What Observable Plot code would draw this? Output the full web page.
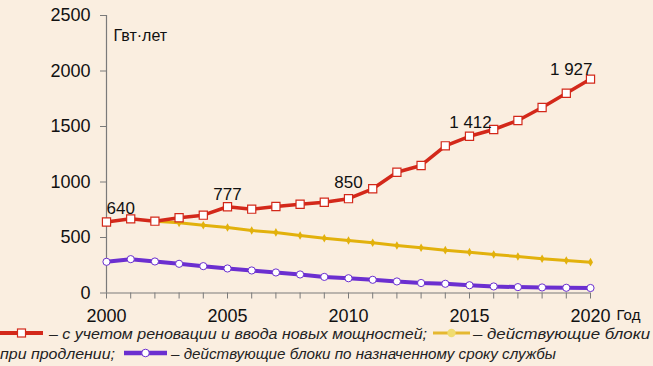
<!DOCTYPE html>
<html>
<head>
<meta charset="utf-8">
<script src="https://cdn.jsdelivr.net/npm/d3@7"></script>
<script src="https://cdn.jsdelivr.net/npm/@observablehq/plot@0.6"></script>
<style>
  html, body { margin: 0; padding: 0; background: #faeee0; }
  #chart { position: relative; width: 653px; height: 366px; overflow: hidden; background: #faeee0; }
  #chart svg { display: block; }
  #chart svg.legend { position: absolute; left: 0; top: 318px; }
</style>
</head>
<body>
<div id="chart"></div>
<script>
const years = [2000, 2001, 2002, 2003, 2004, 2005, 2006, 2007, 2008, 2009, 2010,
               2011, 2012, 2013, 2014, 2015, 2016, 2017, 2018, 2019, 2020];
const renovation = [640, 668, 647, 678, 701, 777, 755, 779, 800, 818, 850,
                    939, 1088, 1149, 1326, 1412, 1473, 1554, 1671, 1800, 1927];
const extendedYears = [2002, 2003, 2004, 2005, 2006, 2007, 2008, 2009, 2010, 2011,
                       2012, 2013, 2014, 2015, 2016, 2017, 2018, 2019, 2020];
const extended = [647, 632, 611, 590, 563, 546, 518, 494, 473, 452,
                  428, 407, 386, 368, 347, 329, 308, 293, 278];
const designLife = [281, 305, 284, 263, 242, 221, 203, 185, 167, 145, 133,
                    119, 104, 90, 83, 70, 59, 53, 50, 47, 45];
const yTicks = [0, 500, 1000, 1500, 2000, 2500];
const xLabelYears = [2000, 2005, 2010, 2015, 2020];
const labelYears = [2000, 2005, 2010, 2015, 2020];
const labelTexts = ["640", "777", "850", "1 412", "1 927"];
const unitLabel = "Гвт·лет";
const xUnitLabel = "Год";
const legendTexts = [
  "– с учетом реновации и ввода новых мощностей;",
  "– действующие блоки",
  "при продлении;",
  "– действующие блоки по назначенному сроку службы"
];

const RED = "#d3281a", YELLOW = "#e2b10c", PURPLE = "#6b2fd0";
const FONT = "'Liberation Sans', Arial, sans-serif";

const redData = years.map((x, i) => ({x, y: renovation[i]}));
const yellowData = extendedYears.map((x, i) => ({x, y: extended[i]}));
const purpleData = years.map((x, i) => ({x, y: designLife[i]}));
const labels = labelYears.map((x, i) => ({x, y: renovation[years.indexOf(x)], text: labelTexts[i], i}));

const labelStyle = [
  {textAnchor: "start", dx: 0, dy: -8},
  {textAnchor: "middle", dx: 0, dy: -7},
  {textAnchor: "middle", dx: 0, dy: -11},
  {textAnchor: "middle", dx: 1, dy: -8},
  {textAnchor: "end", dx: 2, dy: -4}
];

const chart = Plot.plot({
  width: 653,
  height: 327,
  marginLeft: 106,
  marginRight: 63,
  marginTop: 15,
  marginBottom: 34.5,
  style: {background: "transparent", fontFamily: FONT, color: "#111"},
  x: {domain: [2000, 2020]},
  y: {domain: [0, 2500]},
  marks: [
    Plot.axisY({ticks: yTicks, tickSize: 6, tickPadding: 10, tickFormat: d => String(d),
                label: null, fontSize: 18, stroke: "#7a7a7a"}),
    Plot.axisX({ticks: years, tickSize: 6, tickPadding: 10,
                tickFormat: d => xLabelYears.includes(d) ? String(d) : "",
                label: null, fontSize: 18, stroke: "#7a7a7a"}),
    Plot.ruleY([0], {stroke: "#7a7a7a", strokeWidth: 1.2}),
    Plot.ruleX([2000], {stroke: "#7a7a7a", strokeWidth: 1.2}),
    Plot.line(yellowData, {x: "x", y: "y", stroke: YELLOW, strokeWidth: 3}),
    Plot.dot(yellowData, {x: "x", y: "y", r: 2.6, fill: YELLOW, symbol: "diamond"}),
    Plot.line(purpleData, {x: "x", y: "y", stroke: PURPLE, strokeWidth: 4}),
    Plot.dot(purpleData, {x: "x", y: "y", r: 3.6, fill: "white", stroke: PURPLE, strokeWidth: 1}),
    Plot.line(redData, {x: "x", y: "y", stroke: RED, strokeWidth: 3.5}),
    Plot.dot(redData, {x: "x", y: "y", r: 4.6, symbol: "square", fill: "white", stroke: RED, strokeWidth: 1.2}),
    ...labelStyle.map((s, k) => Plot.text(labels.filter(d => d.i === k), {
      x: "x", y: "y", text: "text", textAnchor: s.textAnchor, dx: s.dx, dy: s.dy,
      lineAnchor: "bottom", fontSize: 17, fill: "#111"
    })),
    Plot.text([unitLabel], {x: () => 2000, y: () => 2500, text: d => d, textAnchor: "start",
      lineAnchor: "top", dx: 7, dy: 14, fontSize: 16, fill: "#111"}),
    Plot.text([xUnitLabel], {x: () => 2020, y: () => 0, text: d => d, textAnchor: "start",
      lineAnchor: "top", dx: 26, dy: 16, fontSize: 15, fill: "#111"})
  ]
});

d3.select(chart).selectAll("[aria-label$='tick'] path, [aria-label$='tick'] line").attr("stroke", "#7a7a7a");
document.getElementById("chart").appendChild(chart);

// Legend below the chart
const legend = d3.create("svg").attr("class", "legend").attr("width", 653).attr("height", 48)
  .style("font-family", FONT).style("font-style", "italic").style("font-size", "15.5px");

function swatch(x0, x1, y, color, w, marker) {
  legend.append("line").attr("x1", x0).attr("x2", x1).attr("y1", y).attr("y2", y)
    .attr("stroke", color).attr("stroke-width", w);
  const cx = (x0 + x1) / 2;
  if (marker === "square") {
    legend.append("rect").attr("x", cx - 4).attr("y", y - 4).attr("width", 8).attr("height", 8)
      .attr("fill", "white").attr("stroke", color).attr("stroke-width", 1.2);
  } else if (marker === "circle") {
    legend.append("circle").attr("cx", cx).attr("cy", y).attr("r", 3.8)
      .attr("fill", "white").attr("stroke", color).attr("stroke-width", 1);
  } else {
    legend.append("circle").attr("cx", cx).attr("cy", y).attr("r", 4.2)
      .attr("fill", "#f0dc70");
  }
}
function label(x, y, text, len) {
  legend.append("text").attr("x", x).attr("y", y).attr("fill", "#222")
    .attr("textLength", len).attr("lengthAdjust", "spacingAndGlyphs").text(text);
}
swatch(0, 43, 15, RED, 4, "square");
label(49, 20.5, legendTexts[0], 378);
swatch(433, 470, 15, "#e5b830", 3, "dot");
label(473, 20.5, legendTexts[1], 177);
label(0, 40.5, legendTexts[2], 115);
swatch(124, 167, 35, PURPLE, 4.5, "circle");
label(171, 40.5, legendTexts[3], 385);

document.getElementById("chart").appendChild(legend.node());
</script>
</body>
</html>
